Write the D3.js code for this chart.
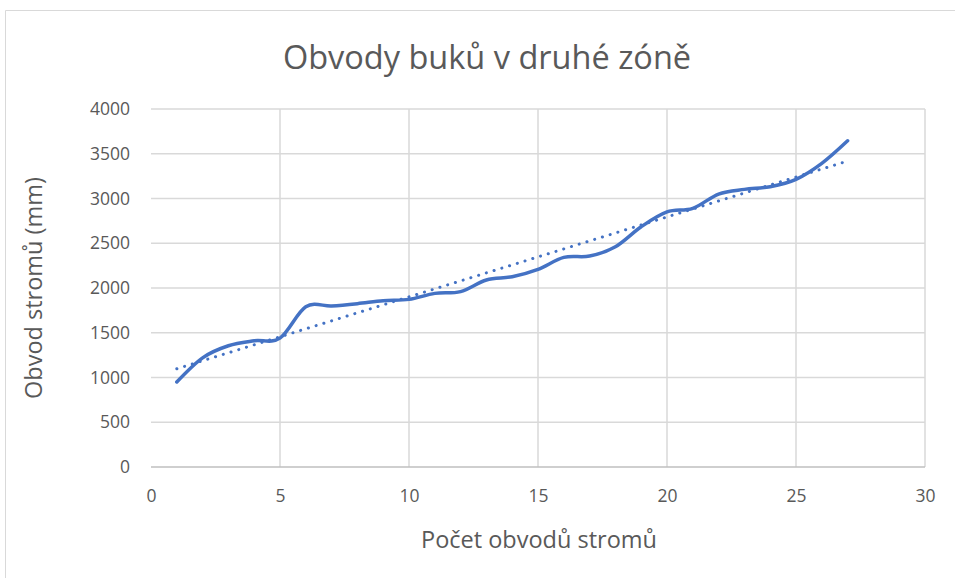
<!DOCTYPE html>
<html><head><meta charset="utf-8">
<script src="https://cdn.jsdelivr.net/npm/d3@7"></script>
<style>body{margin:0;background:#fff}svg{display:block}text{font-family:"Open Sans",sans-serif;fill:#595959}</style>
</head><body><svg id="c" width="955" height="578"></svg>
<script>
const title = "Obvody buků v druhé zóně";
const xTitle = "Počet obvodů stromů";
const yTitle = "Obvod stromů (mm)";
const xValues = [1,2,3,4,5,6,7,8,9,10,11,12,13,14,15,16,17,18,19,20,21,22,23,24,25,26,27];
const yValues = [950,1220,1355,1410,1440,1790,1800,1825,1858,1873,1940,1960,2090,2126,2208,2342,2357,2461,2685,2850,2890,3050,3102,3132,3214,3393,3645];
const xTicks = [0,5,10,15,20,25,30];
const yTicks = [0,500,1000,1500,2000,2500,3000,3500,4000];

const svg = d3.select("#c");
const L = 151, R = 925, T = 109, B = 467;
const x = d3.scaleLinear().domain([0,30]).range([L,R]);
const y = d3.scaleLinear().domain([0,4000]).range([B,T]);

// outer chart border
svg.append("path").attr("d","M5.5,578 V10.5 H955").attr("fill","none").attr("stroke","#d9d9d9").attr("stroke-width",1);

// gridlines
svg.append("g").selectAll("line").data(yTicks.filter(d=>d>0)).join("line")
  .attr("x1",L).attr("x2",R).attr("y1",d=>y(d)).attr("y2",d=>y(d))
  .attr("stroke","#d9d9d9").attr("stroke-width",1.5);
svg.append("g").selectAll("line").data(xTicks.filter(d=>d>0)).join("line")
  .attr("x1",d=>x(d)).attr("x2",d=>x(d)).attr("y1",T).attr("y2",B)
  .attr("stroke","#d9d9d9").attr("stroke-width",1.5);
svg.append("line").attr("x1",L).attr("x2",R).attr("y1",B).attr("y2",B).attr("stroke","#bfbfbf").attr("stroke-width",1.5);

// axes labels
const yAxis = d3.axisLeft(y).tickValues(yTicks).tickFormat(d3.format("d")).tickSize(0).tickPadding(21);
const gy = svg.append("g").attr("transform",`translate(${L},0)`).call(yAxis);
gy.select(".domain").remove();
gy.selectAll("text").style("font-size","17.5px").style("font-family","'Open Sans',sans-serif").attr("fill","#595959");
const xAxis = d3.axisBottom(x).tickValues(xTicks).tickFormat(d3.format("d")).tickSize(0).tickPadding(23);
const gx = svg.append("g").attr("transform",`translate(0,${B})`).call(xAxis);
gx.select(".domain").remove();
gx.selectAll("text").style("font-size","17.5px").style("font-family","'Open Sans',sans-serif").attr("fill","#595959");

// titles
svg.append("text").attr("x",487).attr("y",69).attr("text-anchor","middle").style("font-size","32.5px").text(title);
svg.append("text").attr("x",539).attr("y",548).attr("text-anchor","middle").style("font-size","23.5px").text(xTitle);
svg.append("text").attr("transform","translate(42,288) rotate(-90)").attr("text-anchor","middle").style("font-size","23.5px").text(yTitle);

const data = xValues.map((v,i)=>({x:v,y:yValues[i]}));

// linear trendline (least squares)
const mx = d3.mean(xValues), my = d3.mean(yValues);
const slope = d3.sum(data,d=>(d.x-mx)*(d.y-my))/d3.sum(data,d=>(d.x-mx)**2);
const icpt = my - slope*mx;
const x0 = d3.min(xValues), x1 = d3.max(xValues);
svg.append("line").attr("x1",x(x0)).attr("y1",y(icpt+slope*x0)).attr("x2",x(x1)).attr("y2",y(icpt+slope*x1))
  .attr("stroke","#4472C4").attr("stroke-width",3).attr("stroke-linecap","round").attr("stroke-dasharray","0.1 8");

// smoothed series
const line = d3.line().x(d=>x(d.x)).y(d=>y(d.y)).curve(d3.curveCatmullRom.alpha(0));
svg.append("path").datum(data).attr("d",line).attr("fill","none").attr("stroke","#4472C4").attr("stroke-width",3.5).attr("stroke-linecap","round");
</script></body></html>
